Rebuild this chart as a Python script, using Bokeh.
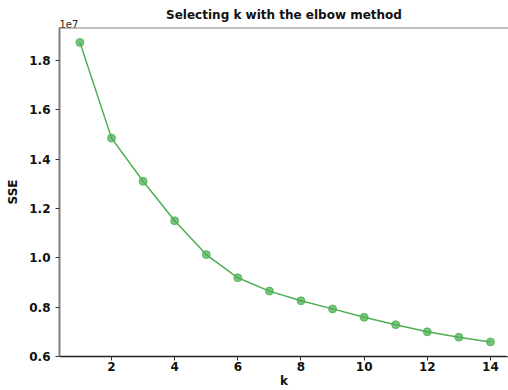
from bokeh.plotting import figure
from bokeh.models import Range1d, FixedTicker, Span, Title
from bokeh.embed import file_html
from bokeh.resources import INLINE

# ---- data ----
k_values = [1, 2, 3, 4, 5, 6, 7, 8, 9, 10, 11, 12, 13, 14]
sse_values = [18.73e6, 14.85e6, 13.10e6, 11.50e6, 10.13e6, 9.19e6, 8.65e6,
              8.26e6, 7.93e6, 7.59e6, 7.29e6, 7.00e6, 6.78e6, 6.59e6]
x_ticks = [2, 4, 6, 8, 10, 12, 14]
y_ticks = [6000000, 8000000, 10000000, 12000000, 14000000, 16000000, 18000000]
y_tick_labels = ["0.6", "0.8", "1.0", "1.2", "1.4", "1.6", "1.8"]
title_text = "Selecting k with the elbow method"
x_label = "k"
y_label = "SSE"
offset_text = "1e7"

FONT = "DejaVu Sans"
GREEN = "#4caf50"

x0, x1 = 0.353, 14.571
y0, y1 = 6.0e6, 19.333e6

p = figure(width=508, height=390, output_backend="svg", toolbar_location=None,
           x_range=Range1d(x0, x1), y_range=Range1d(y0, y1),
           min_border_left=59, min_border_right=0, min_border_top=27,
           min_border_bottom=33, title=None)
p.outline_line_color = None
p.outline_line_alpha = 0
p.background_fill_color = "white"
p.border_fill_color = "white"
p.xgrid.visible = False
p.ygrid.visible = False

p.line(k_values, sse_values, line_color=GREEN, line_width=1.5)
p.scatter(k_values, sse_values, size=8, fill_color=GREEN, fill_alpha=0.75,
          line_color=GREEN, line_alpha=0.75)

# axes
p.xaxis.ticker = FixedTicker(ticks=x_ticks)
p.yaxis.ticker = FixedTicker(ticks=y_ticks)
p.yaxis.major_label_overrides = {t: l for t, l in zip(y_ticks, y_tick_labels)}
for ax in (p.xaxis[0], p.yaxis[0]):
    ax.major_label_text_font = FONT
    ax.major_label_text_font_style = "bold"
    ax.major_label_text_font_size = "12px"
    ax.major_label_text_color = "#111111"
    ax.major_tick_out = 4
    ax.major_tick_in = 0
    ax.major_tick_line_color = "#333333"
    ax.minor_tick_line_color = None
    ax.axis_label_text_font = FONT
    ax.axis_label_text_font_style = "bold"
    ax.axis_label_text_font_size = "12px"
    ax.axis_label_text_color = "#111111"

p.xaxis.axis_line_color = "#222222"
p.xaxis.axis_line_width = 1.5
p.xaxis.major_label_standoff = 1
p.xaxis.axis_label = x_label
p.xaxis.axis_label_standoff = 0
p.yaxis.axis_line_color = "#808080"
p.yaxis.axis_line_width = 2
p.yaxis.major_label_standoff = 5
p.yaxis.axis_label = y_label
p.yaxis.axis_label_standoff = 6

# hide the frame's right edge (the reference is cropped before its right spine)
p.add_layout(Span(location=x1, dimension="height", line_color="white",
                  line_width=4, level="overlay"))
# top spine
p.add_layout(Span(location=y1, dimension="width", line_color="#808080",
                  line_width=2, level="overlay"))

# offset text (closest to the frame) and title above it
p.add_layout(Title(text=offset_text, align="left", text_font=FONT,
                   text_font_style="normal", text_font_size="10px",
                   text_color="#222222", standoff=0), "above")
p.add_layout(Title(text=title_text, align="center", offset=1.5, text_font=FONT,
                   text_font_style="bold", text_font_size="12px",
                   text_color="#111111", standoff=-9), "above")

open("out.html", "w").write(file_html(p, INLINE))
